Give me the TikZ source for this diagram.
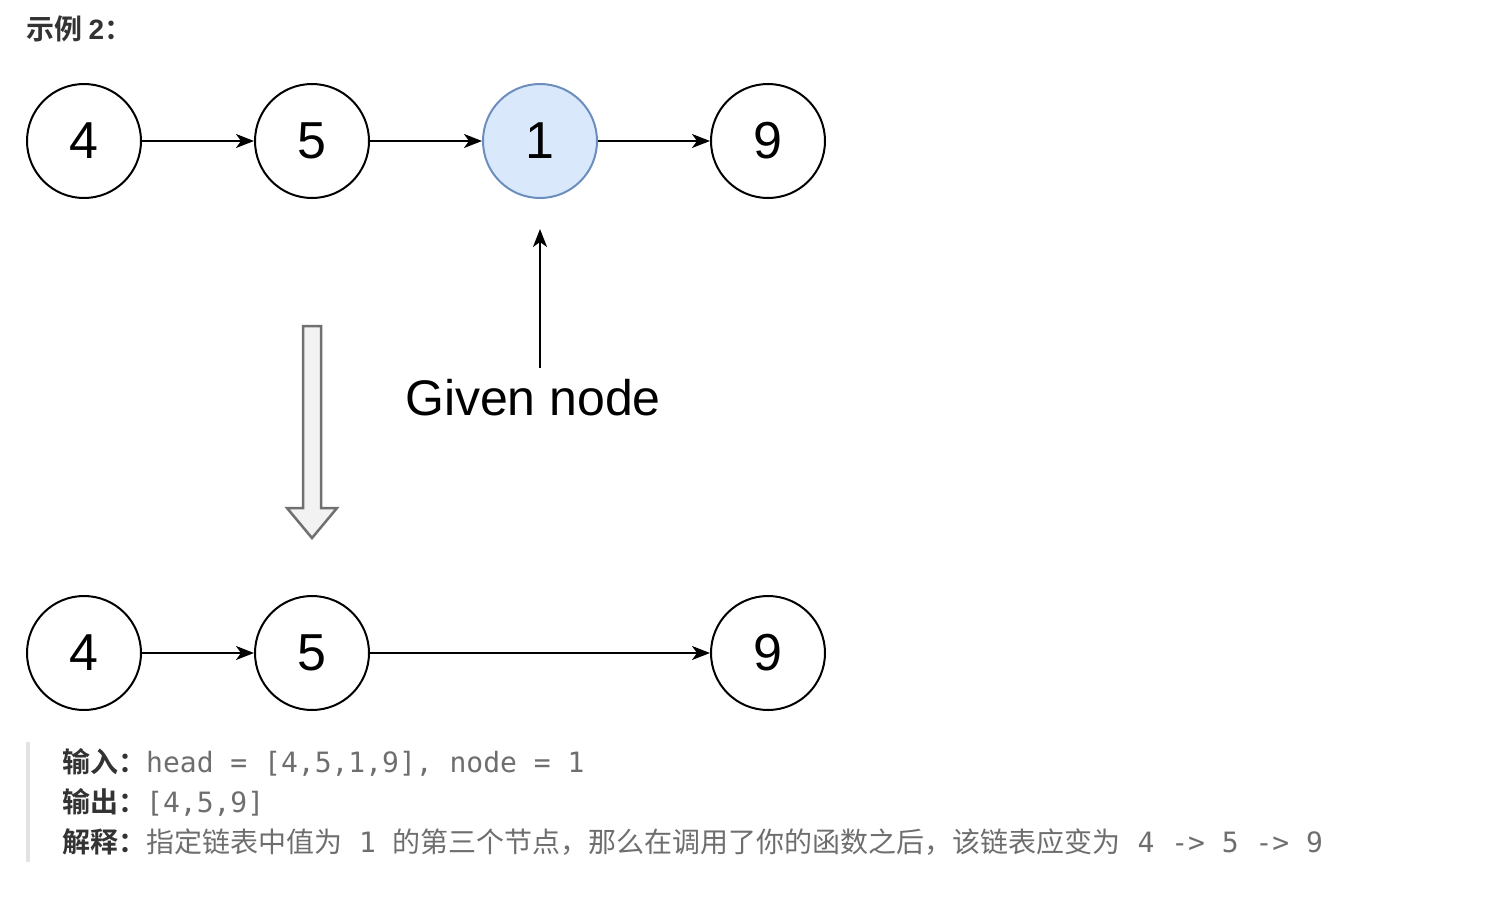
\documentclass[tikz,border=0pt]{standalone}
\usepackage{fontspec}
\setmainfont{Liberation Sans}
\newfontfamily\cjk{Noto Sans CJK SC}
\newfontfamily\cjkbold{Noto Sans CJK SC Bold}
\newfontfamily\mono{DejaVu Sans Mono}
\usetikzlibrary{arrows.meta}
\definecolor{nodeblue}{HTML}{DAE8FC}
\definecolor{nodeedge}{HTML}{6C8EBF}
\definecolor{labelc}{HTML}{333333}
\definecolor{textc}{HTML}{6E6E6E}
\definecolor{barc}{HTML}{E3E3E3}
\definecolor{hollowfill}{HTML}{F2F2F2}
\definecolor{hollowedge}{HTML}{707070}
\tikzset{
  circ/.style={circle,draw=black,line width=2pt,minimum size=114pt,inner sep=0pt,
    font=\fontsize{52}{52}\selectfont},
  given/.style={circ,fill=nodeblue,draw=nodeedge},
  arr/.style={-{Stealth[length=18pt,width=14pt,inset=5pt]},line width=2pt,draw=black},
  line/.style={anchor=west,inner sep=0pt},
}
\begin{document}
\begin{tikzpicture}[x=1pt,y=-1pt]
\useasboundingbox (0,0) rectangle (1490,910);
\node[anchor=west,inner sep=0pt,text=labelc] (title) at (26,29)
  {\fontsize{28}{28}\selectfont\cjkbold 示例 {\rmfamily\bfseries 2}\cjkbold ：};
% top list
\node[circ] (t4) at (84,141) {4};
\node[circ] (t5) at (312,141) {5};
\node[given] (t1) at (540,141) {1};
\node[circ] (t9) at (768,141) {9};
\draw[arr] (t4) -- (t5);
\draw[arr] (t5) -- (t1);
\draw[arr] (t1) -- (t9);
% given node
\node[inner sep=0pt,font=\fontsize{50}{50}\selectfont] (gn) at (533,398) {Given node};
\coordinate (gs) at (540,368);
\draw[arr] (gs) -- ([yshift=-30pt]t1.south);
% hollow arrow
\draw[fill=hollowfill,draw=hollowedge,line width=2.5pt,line join=miter]
  (303,326) -- (321,326) -- (321,508) -- (337,508) -- (312,538) -- (287,508) -- (303,508) -- cycle;
% bottom list
\node[circ] (b4) at (84,653) {4};
\node[circ] (b5) at (312,653) {5};
\node[circ] (b9) at (768,653) {9};
\draw[arr] (b4) -- (b5);
\draw[arr] (b5) -- (b9);
% explanation block
\fill[barc] (26,742) rectangle (30,862);
\node[line] (l1) at (62,762) {\fontsize{28}{28}\selectfont\color{labelc}\cjkbold 输入：\color{textc}\mono head = [4,5,1,9], node = 1};
\node[line] (l2) at (62,802) {\fontsize{28}{28}\selectfont\color{labelc}\cjkbold 输出：\color{textc}\mono [4,5,9]};
\node[line] (l3) at (62,842) {\fontsize{28}{28}\selectfont\color{labelc}\cjkbold 解释：\color{textc}\cjk 指定链表中值为{\mono\ 1 }的第三个节点，那么在调用了你的函数之后，该链表应变为{\mono\ 4 -> 5 -> 9}};
\end{tikzpicture}
\end{document}
